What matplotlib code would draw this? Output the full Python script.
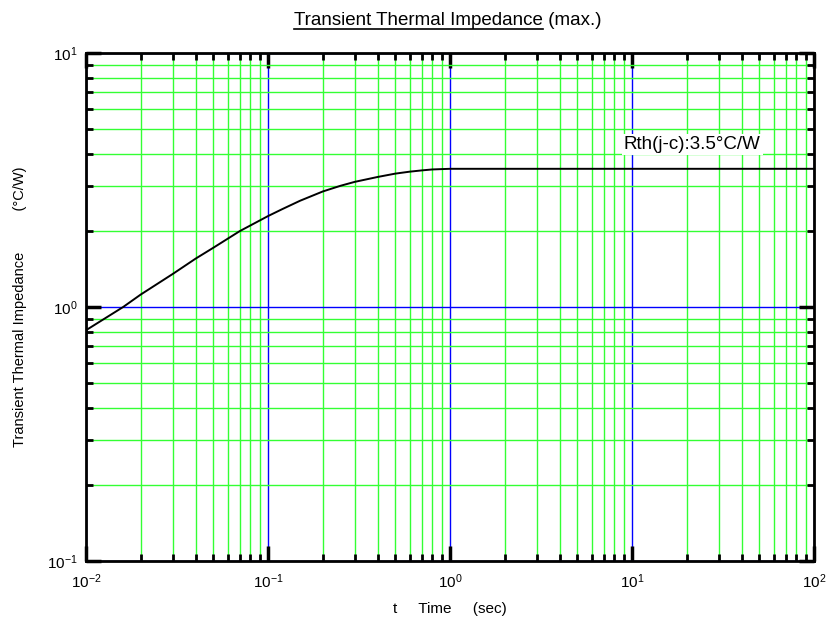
import matplotlib
matplotlib.use("Agg")
import matplotlib.pyplot as plt
from matplotlib.ticker import LogLocator, NullFormatter
from matplotlib.lines import Line2D

plt.rcParams['font.family'] = ['Liberation Sans', 'DejaVu Sans']
plt.rcParams['mathtext.fontset'] = 'custom'
plt.rcParams['mathtext.rm'] = 'Liberation Sans'
plt.rcParams['mathtext.default'] = 'regular'
plt.rcParams['axes.unicode_minus'] = False

# data
time_s = [0.01, 0.016, 0.02, 0.03, 0.04, 0.05, 0.07, 0.1, 0.12, 0.15, 0.2, 0.25, 0.3,
          0.4, 0.5, 0.6, 0.7, 0.8, 1.0, 100.0]
zth = [0.81, 1.0, 1.12, 1.35, 1.55, 1.71, 1.99, 2.28, 2.43, 2.62, 2.85, 3.0, 3.11,
       3.25, 3.35, 3.41, 3.45, 3.48, 3.5, 3.5]

title_main = "Transient Thermal Impedance"
title_suffix = " (max.)"
annotation = "Rth(j-c):3.5°C/W"
xlabel = "t     Time     (sec)"
ylabel = "Transient Thermal Impedance          (°C/W)"

fig = plt.figure(figsize=(8.27, 6.24), dpi=100)
ax = fig.add_axes([86/827, 1-561/624, (814-86)/827, (561-53)/624])
ax.set_xscale('log')
ax.set_yscale('log')
ax.set_xlim(1e-2, 1e2)
ax.set_ylim(1e-1, 1e1)

ax.xaxis.set_major_locator(LogLocator(base=10, numticks=10))
ax.yaxis.set_major_locator(LogLocator(base=10, numticks=10))
ax.xaxis.set_minor_locator(LogLocator(base=10, subs=range(2, 10), numticks=20))
ax.yaxis.set_minor_locator(LogLocator(base=10, subs=range(2, 10), numticks=20))
ax.xaxis.set_minor_formatter(NullFormatter())
ax.yaxis.set_minor_formatter(NullFormatter())

ax.grid(which='minor', color='#33ff33', linewidth=1.0)
ax.grid(which='major', color='#0000ff', linewidth=1.0)
ax.set_axisbelow(True)

ax.tick_params(which='major', direction='in', length=11, width=2.5, top=True, right=True,
               labelsize=11, color='black')
ax.tick_params(axis='x', which='major', pad=8)
ax.tick_params(axis='y', which='major', pad=6)
ax.tick_params(which='minor', direction='in', length=5, width=2, top=True, right=True, color='black')
for s in ax.spines.values():
    s.set_linewidth(2)
    s.set_color('black')

ax.plot(time_s, zth, color='black', linewidth=1.4, zorder=3)

ax.text(9.0, 4.35, annotation, fontsize=13.5, va='center', ha='left', zorder=4,
        bbox=dict(facecolor='white', edgecolor='none', pad=1.5))

ax.set_xlabel(xlabel, fontsize=11, labelpad=8)
ax.set_ylabel(ylabel, fontsize=10.5, labelpad=14)

# title with underlined first part
fig.canvas.draw()
renderer = fig.canvas.get_renderer()
ybase = 1 - 25/624
t1 = fig.text(0.5, ybase, title_main, fontsize=13.5, ha='left', va='baseline')
t2 = fig.text(0.5, ybase, title_suffix, fontsize=13.5, ha='left', va='baseline')
b1 = t1.get_window_extent(renderer)
b2 = t2.get_window_extent(renderer)
total = b1.width + b2.width
x0 = (448 - total / 2)
t1.set_x(x0 / 827)
t2.set_x((x0 + b1.width) / 827)
b1 = t1.get_window_extent(renderer)
yline = 624 - 28.5
fig.add_artist(Line2D([b1.x0 / 827, b1.x1 / 827], [yline / 624, yline / 624],
                      transform=fig.transFigure, color='black', linewidth=1.2))

fig.savefig('out.png', dpi=100)
